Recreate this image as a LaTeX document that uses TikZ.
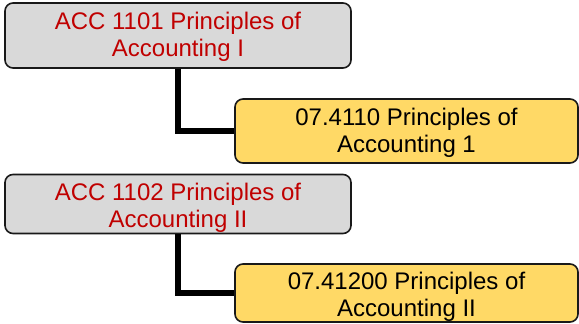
\documentclass[tikz,border=0pt]{standalone}
\usepackage{fontspec}
\setmainfont{Liberation Sans}
\definecolor{boxgray}{HTML}{D9D9D9}
\definecolor{boxyellow}{HTML}{FFD966}
\definecolor{txtred}{HTML}{C00000}
\begin{document}
\begin{tikzpicture}[x=1pt,y=-1pt,
  box/.style={draw=black!90, line width=1.6pt, rounded corners=8pt, minimum height=#1},
  graybox/.style={box=65pt, fill=boxgray, minimum width=346pt},
  yellowbox/.style={box=64pt, fill=boxyellow, minimum width=343pt},
  txt/.style={align=center, font=\fontsize{24}{26.5}\selectfont, inner sep=0pt},
  conn/.style={line width=6pt, draw=black}]
\useasboundingbox (0,0) rectangle (579,324);
\node[graybox] (b1) at (178,35.5) {};
\node[txt, text=txtred] (t1) at (178,37) {ACC 1101 Principles of\\Accounting I};
\node[yellowbox] (b2) at (406.5,131) {};
\node[txt] (t2) at (406.5,133) {07.4110 Principles of\\Accounting 1};
\node[graybox, minimum height=59pt] (b3) at (178,204) {};
\node[txt, text=txtred] (t3) at (178,208) {ACC 1102 Principles of\\Accounting II};
\node[yellowbox, minimum height=58pt] (b4) at (406.5,293) {};
\node[txt] (t4) at (406.5,297) {07.41200 Principles of\\Accounting II};
\draw[conn] (b1.south) |- (b2.west);
\draw[conn] (b3.south) |- (b4.west);
\end{tikzpicture}
\end{document}
